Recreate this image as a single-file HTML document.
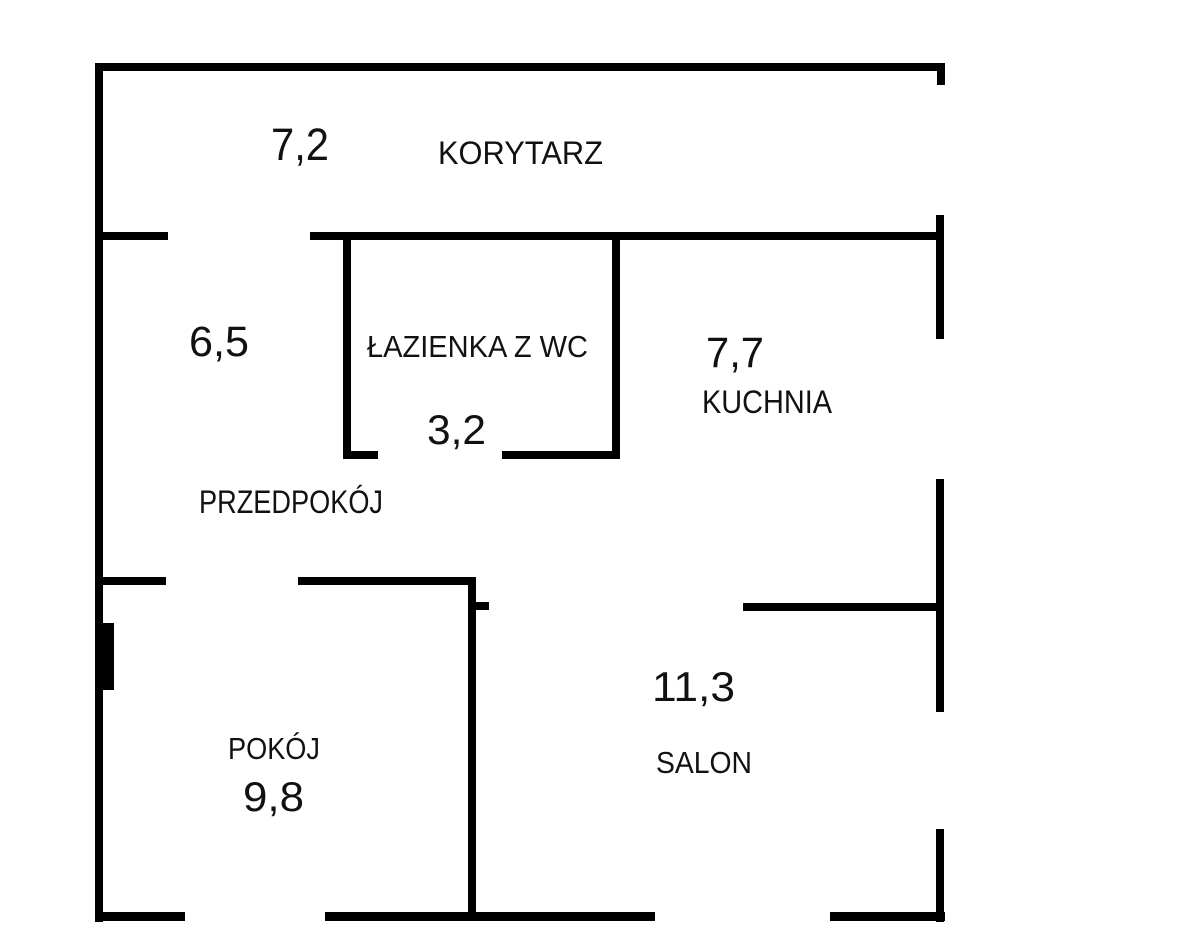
<!DOCTYPE html>
<html><head><meta charset="utf-8"><style>
html,body{margin:0;padding:0;background:#fff;}
svg{display:block}
text{font-family:"Liberation Sans",sans-serif;fill:#111;}
</style></head><body>
<svg width="1200" height="943" viewBox="0 0 1200 943" xmlns="http://www.w3.org/2000/svg">
<g fill="#000">
<rect x="96" y="63" width="849" height="8"/>
<rect x="95" y="63" width="8" height="859"/>
<rect x="937" y="63" width="8" height="22"/>
<rect x="936" y="215" width="8" height="124"/>
<rect x="936" y="479" width="8" height="233"/>
<rect x="936" y="829" width="8" height="93"/>
<rect x="96" y="232" width="72" height="8"/>
<rect x="310" y="232" width="630" height="8"/>
<rect x="343" y="236" width="8" height="223"/>
<rect x="612" y="236" width="8" height="223"/>
<rect x="343" y="451" width="35" height="8"/>
<rect x="502" y="451" width="118" height="8"/>
<rect x="96" y="577" width="70" height="8"/>
<rect x="298" y="577" width="177" height="8"/>
<rect x="468" y="577" width="8" height="340"/>
<rect x="468" y="602" width="21" height="8"/>
<rect x="743" y="603" width="197" height="8"/>
<rect x="101" y="623" width="13" height="67"/>
<rect x="95" y="912" width="90" height="9"/>
<rect x="325" y="912" width="330" height="9"/>
<rect x="830" y="912" width="115" height="9"/>
</g>
<text x="271" y="160" font-size="45" textLength="58" lengthAdjust="spacingAndGlyphs">7,2</text>
<text x="438" y="164" font-size="32" textLength="165" lengthAdjust="spacingAndGlyphs">KORYTARZ</text>
<text x="189" y="356" font-size="43" textLength="60" lengthAdjust="spacingAndGlyphs">6,5</text>
<text x="367" y="357" font-size="31" textLength="221" lengthAdjust="spacingAndGlyphs">ŁAZIENKA Z WC</text>
<text x="427" y="444" font-size="42" textLength="59" lengthAdjust="spacingAndGlyphs">3,2</text>
<text x="706" y="367" font-size="43" textLength="58" lengthAdjust="spacingAndGlyphs">7,7</text>
<text x="702" y="413" font-size="32" textLength="130" lengthAdjust="spacingAndGlyphs">KUCHNIA</text>
<text x="199" y="513" font-size="32" textLength="184" lengthAdjust="spacingAndGlyphs">PRZEDPOKÓJ</text>
<text x="652" y="701" font-size="42" textLength="83" lengthAdjust="spacingAndGlyphs">11,3</text>
<text x="656" y="773" font-size="31" textLength="96" lengthAdjust="spacingAndGlyphs">SALON</text>
<text x="228" y="759" font-size="31" textLength="92" lengthAdjust="spacingAndGlyphs">POKÓJ</text>
<text x="243" y="811" font-size="42" textLength="61" lengthAdjust="spacingAndGlyphs">9,8</text>
</svg>
</body></html>
